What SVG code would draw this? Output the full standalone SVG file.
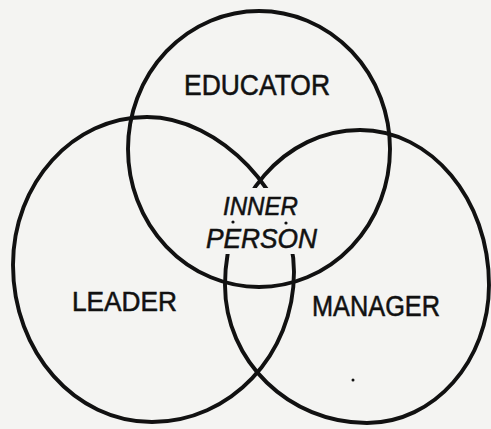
<svg xmlns="http://www.w3.org/2000/svg" width="491" height="429" viewBox="0 0 491 429">
  <style>
    .ring { fill: none; stroke: #111; stroke-width: 3.9; stroke-linecap: butt; }
    .lbl { font-family: "Liberation Sans", Arial, sans-serif; fill: #111; stroke: #111; stroke-width: 0.55; }
    .inner { font-style: italic; }
    .speck { fill: #111; }
  </style>
  <defs>
    <mask id="gap" maskUnits="userSpaceOnUse" x="0" y="0" width="491" height="429">
      <rect x="0" y="0" width="491" height="429" fill="#fff"/>
      <rect x="215" y="188" width="90" height="66" fill="#000"/>
    </mask>
  </defs>
  <rect x="0" y="0" width="491" height="429" fill="#f4f4f2"/>

  <g id="educator">
    <ellipse class="ring" cx="259" cy="149" rx="131" ry="138"/>
    <text class="lbl" x="184" y="95" font-size="30" textLength="146" lengthAdjust="spacingAndGlyphs">EDUCATOR</text>
  </g>

  <g id="leader">
    <path class="ring" mask="url(#gap)" d="M13,265 C13,183 73,117 147,117 C220,117 294,195 294,272 C294,355 230,422 152,422 C75,422 13,352 13,265 Z"/>
    <text class="lbl" x="72" y="311" font-size="28" textLength="105" lengthAdjust="spacingAndGlyphs">LEADER</text>
  </g>

  <g id="manager">
    <path class="ring" mask="url(#gap)" d="M360,130 C431,130 489,199 489,285 C489,361 434,423 367,423 C289,423 225,361 225,285 C225,199 285,130 360,130 Z"/>
    <text class="lbl" x="312" y="316" font-size="30" textLength="128" lengthAdjust="spacingAndGlyphs">MANAGER</text>
  </g>

  <g id="inner-person">
    <text class="lbl inner" x="223" y="215" font-size="26" textLength="75" lengthAdjust="spacingAndGlyphs">INNER</text>
    <text class="lbl inner" x="206" y="248" font-size="27" textLength="111" lengthAdjust="spacingAndGlyphs">PERSON</text>
    <circle class="speck" cx="233" cy="222" r="1.6"/>
    <circle class="speck" cx="286" cy="223" r="1.6"/>
  </g>

  <circle class="speck" cx="353" cy="380" r="1.5"/>
</svg>
